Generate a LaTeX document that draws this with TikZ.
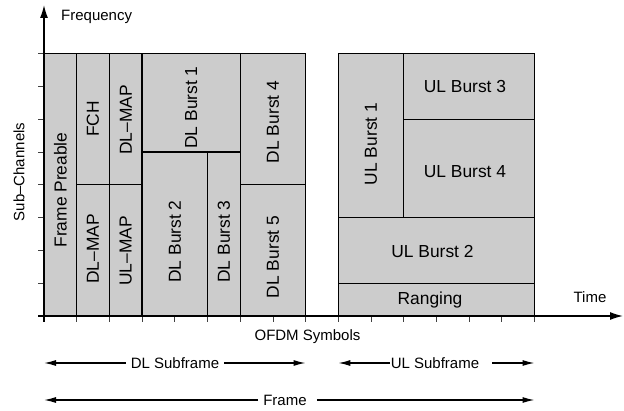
\documentclass[tikz,border=0pt]{standalone}
\usepackage{fontspec}
\setmainfont{Liberation Sans}
\usetikzlibrary{arrows.meta}
\definecolor{cellgray}{HTML}{CCCCCC}
\tikzset{
  cell/.style={draw=black, fill=cellgray, line width=1.25pt},
  celltext/.style={inner sep=0pt, font=\fontsize{17.4}{20}\selectfont},
  vtext/.style={celltext, rotate=90},
  lbl/.style={inner sep=0pt, font=\fontsize{15}{18}\selectfont},
  axis/.style={line width=1.3pt, -{Latex[length=13pt,width=8pt]}},
  tickmark/.style={line width=0.8pt, draw=black!75},
  span/.style={line width=1.3pt, -{Latex[length=12pt,width=6pt]}}
}
\begin{document}
\begin{tikzpicture}[x=1pt,y=1pt]
\useasboundingbox (0,0) rectangle (624,410);
\def\gx#1{44+32.7*#1}
\def\gy#1{94+32.8*#1}
% cells
\draw[cell] ({\gx0},{\gy0}) rectangle ({\gx1},{\gy8});
\draw[cell] ({\gx1},{\gy4}) rectangle ({\gx2},{\gy8});
\draw[cell] ({\gx1},{\gy0}) rectangle ({\gx2},{\gy4});
\draw[cell] ({\gx2},{\gy4}) rectangle ({\gx3},{\gy8});
\draw[cell] ({\gx2},{\gy0}) rectangle ({\gx3},{\gy4});
\draw[cell] ({\gx3},{\gy5}) rectangle ({\gx6},{\gy8});
\draw[cell] ({\gx3},{\gy0}) rectangle ({\gx5},{\gy5});
\draw[cell] ({\gx5},{\gy0}) rectangle ({\gx6},{\gy5});
\draw[cell] ({\gx6},{\gy4}) rectangle ({\gx8},{\gy8});
\draw[cell] ({\gx6},{\gy0}) rectangle ({\gx8},{\gy4});
\draw[cell] ({\gx9},{\gy3}) rectangle ({\gx11},{\gy8});
\draw[cell] ({\gx11},{\gy6}) rectangle ({\gx15},{\gy8});
\draw[cell] ({\gx11},{\gy3}) rectangle ({\gx15},{\gy6});
\draw[cell] ({\gx9},{\gy1}) rectangle ({\gx15},{\gy3});
\draw[cell] ({\gx9},{\gy0}) rectangle ({\gx15},{\gy1});
% cell labels
\node[vtext] (fp)  at (60.3,220) {Frame Preable};
\node[vtext] (fch) at (93,291) {FCH};
\node[vtext] (dlmapu) at (125.8,290) {DL--MAP};
\node[vtext] (dlmapl) at (93,161) {DL--MAP};
\node[vtext] (ulmap) at (125.8,159) {UL--MAP};
\node[vtext] (dlb1) at (191.2,302.5) {DL Burst 1};
\node[vtext] (dlb2) at (174.8,168.5) {DL Burst 2};
\node[vtext] (dlb3) at (223.9,168.5) {DL Burst 3};
\node[vtext] (dlb4) at (272.9,288) {DL Burst 4};
\node[vtext] (dlb5) at (272.9,153) {DL Burst 5};
\node[vtext] (ulb1) at (371,266) {UL Burst 1};
\node[celltext] (ulb3) at (465,323) {UL Burst 3};
\node[celltext] (ulb4) at (465,238) {UL Burst 4};
\node[celltext] (ulb2) at (432.5,158) {UL Burst 2};
\node[celltext] (rng) at (430,110) {Ranging};
% ticks
\foreach \i in {0,...,15} \draw[tickmark] ({\gx\i},{\gy0}) -- ({\gx\i},88);
\foreach \j in {0,...,8} \draw[tickmark] (38,{\gy\j}) -- ({\gx0},{\gy\j});
% axes
\coordinate (origin) at ({\gx0},{\gy0});
\coordinate (ytip) at ({\gx0},405);
\coordinate (xtip) at (623,{\gy0});
\coordinate (xstart) at (38,{\gy0});
\coordinate (ystart) at ({\gx0},88);
\draw[axis] (ystart) -- (ytip);
\draw[axis] (xstart) -- (xtip);
% axis labels
\node[lbl, anchor=west] (freq) at (61,393) {Frequency};
\node[lbl, rotate=90] (sub) at (19,238) {Sub--Channels};
\node[lbl] (time) at (590,113) {Time};
\node[lbl] (ofdm) at (307.5,73) {OFDM Symbols};
% spans
\node[lbl] (dls) at (175,47) {DL Subframe};
\node[lbl] (uls) at (435,47) {UL Subframe};
\node[lbl] (frm) at (285,10) {Frame};
\coordinate (dlL) at ({\gx0},47);
\coordinate (dlR) at ({\gx8},47);
\coordinate (ulL) at ({\gx9},47);
\coordinate (ulR) at ({\gx15},47);
\coordinate (frL) at ({\gx0},10);
\coordinate (frR) at ({\gx15},10);
\draw[span] ([xshift=-5pt]dls.west) -- (dlL);
\draw[span] ([xshift=5pt]dls.east) -- (dlR);
\draw[span] ([xshift=-0.5pt]uls.west) -- (ulL);
\draw[span] ([xshift=13pt]uls.east) -- (ulR);
\draw[span] ([xshift=-5pt]frm.west) -- (frL);
\draw[span] ([xshift=10pt]frm.east) -- (frR);
\end{tikzpicture}
\end{document}
